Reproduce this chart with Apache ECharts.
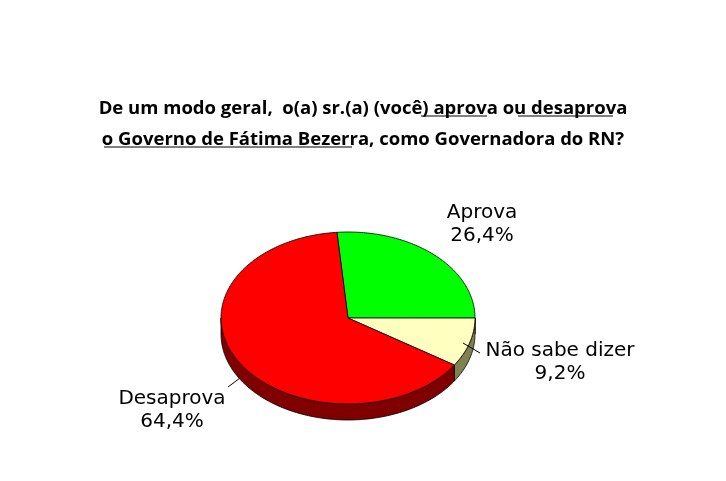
<!DOCTYPE html><html><head><meta charset="utf-8">
<script src="https://cdn.jsdelivr.net/npm/echarts@6/dist/echarts.min.js"></script>
<style>html,body{margin:0;background:#fff}#c{width:726px;height:481px}</style></head><body><div id="c"></div>
<script>
var categories=['Aprova','Não sabe dizer','Desaprova'];
var values=[26.4,9.2,64.4];
var labels=['Aprova\n26,4%','Não sabe dizer\n9,2%','Desaprova\n64,4%'];
var topColors=['#00ff00','#ffffc0','#ff0000'];
var sideColors=['#008000','#808050','#800000'];
var labelPos=[[482,224],[560,362],[172,410]];
var lineEnds=[[null],[[463,343],[480,353]],[[240,378],[228,387]]];
var chart=echarts.init(document.getElementById('c'));
var cx=348,cy=318,rx=127,ry=86,depth=16,start=-5;
var total=values.reduce(function(a,b){return a+b},0);
function pt(t,dy){var r=t*Math.PI/180;return [cx+rx*Math.sin(r),cy-ry*Math.cos(r)+(dy||0)];}
chart.setOption({
title:{text:'De um modo geral,  o(a) sr.(a) (você) aprova ou desaprova\no Governo de Fátima Bezerra, como Governadora do RN?',left:'center',top:88,
textStyle:{fontFamily:'Open Sans',fontWeight:'bold',fontSize:18.5,lineHeight:31,color:'#000'}},
graphic:[
{type:'line',shape:{x1:421,y1:116,x2:487,y2:116},style:{stroke:'#000',lineWidth:1}},
{type:'line',shape:{x1:518,y1:116,x2:613,y2:116},style:{stroke:'#000',lineWidth:1}},
{type:'line',shape:{x1:104,y1:147,x2:352,y2:147},style:{stroke:'#000',lineWidth:1}}],
xAxis:{show:false},yAxis:{show:false},
series:[{type:'custom',coordinateSystem:'none',data:values.map(function(v,i){return [i,v]}),
renderItem:function(params,api){
 var i=params.dataIndex,before=0;for(var k=0;k<i;k++)before+=values[k];
 var a0=start+before/total*360,a1=start+(before+values[i])/total*360;
 var ch=[];
 var s0=Math.max(a0,90),s1=Math.min(a1,270);
 if(s1>s0){var sp=[];for(var t=s0;t<=s1;t+=1)sp.push(pt(t));sp.push(pt(s1));
  for(var t=s1;t>=s0;t-=1)sp.push(pt(t,depth));sp.push(pt(s0,depth));
  ch.push({type:'polygon',shape:{points:sp},style:{fill:sideColors[i],stroke:'#000',lineWidth:0.8}});}
 var p=[[cx,cy]];for(var t=a0;t<a1;t+=1)p.push(pt(t));p.push(pt(a1));
 ch.push({type:'polygon',shape:{points:p},style:{fill:topColors[i],stroke:'#000',lineWidth:0.8}});
 var lp=labelPos[i];
 ch.push({type:'text',style:{text:labels[i],x:lp[0],y:lp[1],align:'center',verticalAlign:'middle',fontFamily:'DejaVu Sans',fontSize:20,lineHeight:23,fill:'#000'}});
 var le=lineEnds[i];
 if(le[0]&&le[1])ch.push({type:'line',shape:{x1:le[0][0],y1:le[0][1],x2:le[1][0],y2:le[1][1]},style:{stroke:'#000',lineWidth:1}});
 return {type:'group',children:ch};
}}]
});
</script></body></html>
